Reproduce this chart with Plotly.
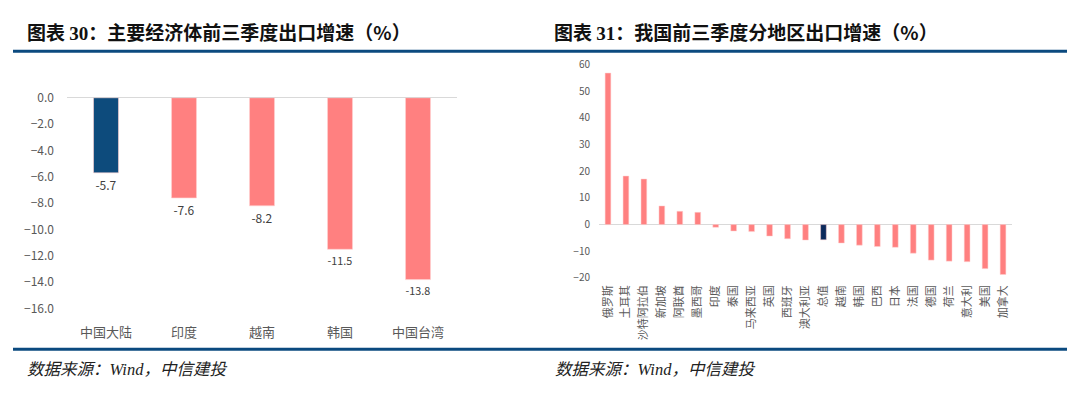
import plotly.graph_objects as go

# Left chart data
left_cats = ["中国大陆", "印度", "越南", "韩国", "中国台湾"]
left_vals = [-5.7, -7.6, -8.2, -11.5, -13.8]
left_colors = ["#0d4b7c", "#ff8080", "#ff8080", "#ff8080", "#ff8080"]

# Right chart data
right_cats = ["俄罗斯", "土耳其", "沙特阿拉伯", "新加坡", "阿联酋", "墨西哥", "印度", "泰国",
              "马来西亚", "英国", "西班牙", "澳大利亚", "总值", "越南", "韩国", "巴西", "日本",
              "法国", "德国", "荷兰", "意大利", "美国", "加拿大"]
right_vals = [56.8, 18.2, 17.1, 7.0, 5.0, 4.6, -1.0, -2.4, -2.6, -4.3, -5.3, -5.8, -5.7,
              -6.9, -7.7, -8.2, -8.5, -10.7, -13.3, -13.7, -13.9, -16.5, -18.7]
right_colors = ["#0c2a5c" if c == "总值" else "#ff8080" for c in right_cats]

W, H = 1080, 396
FONT = "Noto Sans CJK SC"

def xd(a, b):
    return [a / W, b / W]

def yd(top, bottom):
    return [(H - bottom) / H, (H - top) / H]

fig = go.Figure()

fig.add_trace(go.Bar(
    x=left_cats, y=left_vals, marker=dict(color=left_colors, line=dict(color="#ffd0d0", width=0.6)),
    text=[f"{v:.1f}" for v in left_vals], textposition="outside",
    textfont=dict(size=12, color="#404040", family=FONT), cliponaxis=False,
    xaxis="x", yaxis="y", showlegend=False))

fig.add_trace(go.Bar(
    x=right_cats, y=right_vals, marker=dict(color=right_colors, line=dict(color="#ffd0d0", width=0.5)),
    xaxis="x2", yaxis="y2", showlegend=False))

fig.update_layout(
    width=W, height=H, margin=dict(l=0, r=0, t=0, b=0),
    paper_bgcolor="white", plot_bgcolor="white",
    bargap=0.68,
    font=dict(family=FONT, color="#595959"),
    xaxis=dict(domain=xd(67, 457), anchor="y", showgrid=False, showline=False,
               tickfont=dict(size=13, color="#595959"), ticklabelstandoff=14),
    yaxis=dict(domain=yd(91.7, 312), anchor="x", range=[-16, 0], dtick=2, tickformat=".1f",
               showgrid=False, showline=False, zeroline=True, zerolinecolor="#d9d9d9", zerolinewidth=1,
               tickfont=dict(size=12, color="#595959"), ticklabelstandoff=12),
    xaxis2=dict(domain=xd(599, 1012), anchor="y2", showgrid=False, showline=False,
                tickangle=-90, tickfont=dict(size=11, color="#595959"), ticklabelstandoff=4),
    yaxis2=dict(domain=yd(57, 280), anchor="x2", range=[-20, 60], dtick=10,
                showgrid=False, showline=False, zeroline=True, zerolinecolor="#d9d9d9", zerolinewidth=1,
                tickfont=dict(size=10, color="#595959"), ticklabelstandoff=8),
)

# Header and footer rules
for y0 in (43, 354.5):
    fig.add_shape(type="line", xref="paper", yref="paper",
                  x0=13 / W, x1=1067 / W, y0=(H - y0) / H, y1=(H - y0) / H,
                  line=dict(color="#0b4a7f", width=3))

titles = [("图表 <span style='font-family:Liberation Serif'>30</span>：主要经济体前三季度出口增速（%）", 25),
          ("图表 <span style='font-family:Liberation Serif'>31</span>：我国前三季度分地区出口增速（%）", 552)]
for t, x in titles:
    fig.add_annotation(text=f"<b>{t}</b>", xref="paper", yref="paper", x=x / W, y=(H - 22) / H,
                       xanchor="left", yanchor="middle", showarrow=False,
                       font=dict(size=19, color="#111111", family=FONT))

for x in (25, 553):
    fig.add_annotation(text="<i>数据来源：<span style='font-family:Liberation Serif'>Wind</span>，中信建投</i>",
                       xref="paper", yref="paper",
                       x=x / W, y=(H - 374) / H, xanchor="left", yanchor="middle", showarrow=False,
                       font=dict(size=16.5, color="#222222", family=FONT))

fig.write_html("out.html", config={"displayModeBar": False},
               post_script="document.body.style.margin='0';document.body.style.overflow='hidden';")
